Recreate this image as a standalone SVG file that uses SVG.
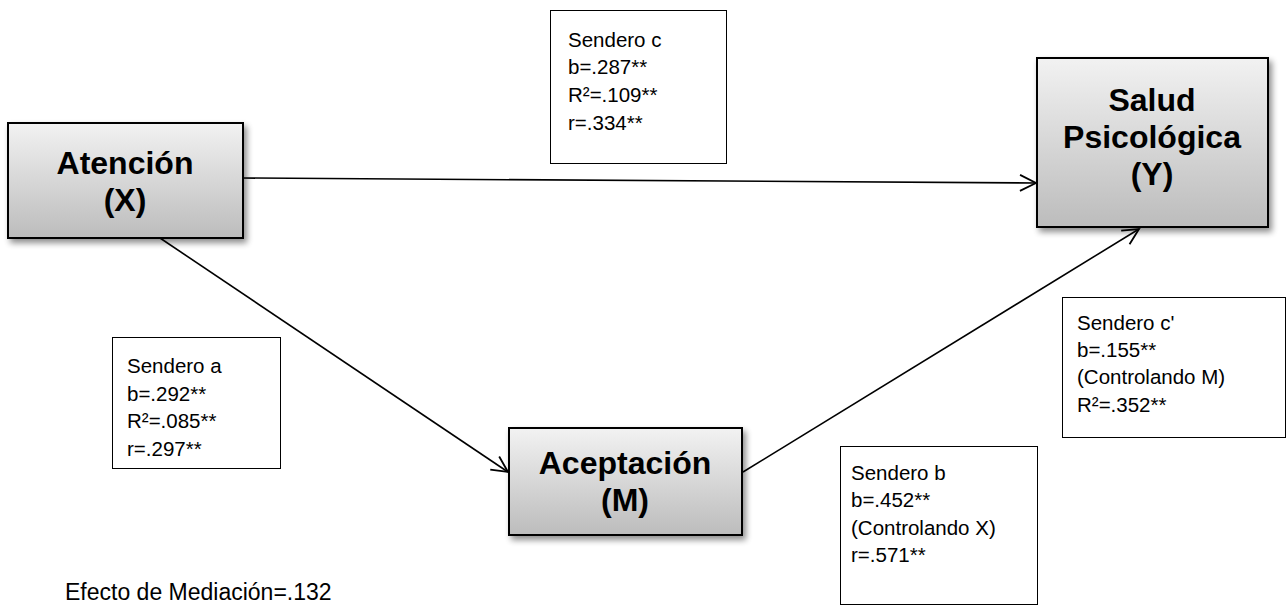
<svg xmlns="http://www.w3.org/2000/svg" width="1286" height="607" viewBox="0 0 1286 607">
<style>
.node rect{fill:url(#g);stroke:#000;stroke-width:2;filter:url(#sh)}
.nt{font-family:"Liberation Sans",Arial,sans-serif;font-weight:bold;font-size:32px;fill:#000;text-anchor:middle}
.box{fill:#fff;stroke:#000;stroke-width:1}
.lt{font-family:"Liberation Sans",Arial,sans-serif;font-size:20.5px;fill:#000}
.conn line{stroke:#000;stroke-width:1.6;marker-end:url(#arr)}
</style>
<defs>
<linearGradient id="g" x1="0" y1="0" x2="0" y2="1">
<stop offset="0" stop-color="#f2f2f2"/>
<stop offset="1" stop-color="#bcbcbc"/>
</linearGradient>
<filter id="sh" x="-10%" y="-10%" width="130%" height="140%">
<feGaussianBlur in="SourceAlpha" stdDeviation="3"/>
<feOffset dx="3" dy="4" result="b"/>
<feComponentTransfer><feFuncA type="linear" slope="0.45"/></feComponentTransfer>
<feMerge><feMergeNode/><feMergeNode in="SourceGraphic"/></feMerge>
</filter>
<marker id="arr" viewBox="0 0 20 20" refX="18" refY="10" markerWidth="20" markerHeight="20" markerUnits="userSpaceOnUse" orient="auto">
<path d="M2,2 L18,10 L2,18" fill="none" stroke="#000" stroke-width="1.8"/>
</marker>
</defs>
<g id="connectors" class="conn">
<line x1="243" y1="178" x2="1036" y2="183"/>
<line x1="160" y1="238" x2="508" y2="472"/>
<line x1="743" y1="472" x2="1139" y2="229"/>
</g>
<g id="node-x" class="node">
<rect x="8" y="123" width="235" height="115"/>
<text class="nt" x="125" y="174">Atención</text>
<text class="nt" x="125" y="211">(X)</text>
</g>
<g id="node-y" class="node">
<rect x="1037" y="58" width="231" height="169"/>
<text class="nt" x="1152" y="111">Salud</text>
<text class="nt" x="1152" y="148">Psicológica</text>
<text class="nt" x="1152" y="185">(Y)</text>
</g>
<g id="node-m" class="node">
<rect x="509" y="428" width="233" height="107"/>
<text class="nt" x="625" y="474">Aceptación</text>
<text class="nt" x="625" y="511">(M)</text>
</g>
<g id="label-c">
<rect class="box" x="550.5" y="10.5" width="176" height="153"/>
<text class="lt" x="568" y="47">Sendero c</text>
<text class="lt" x="568" y="74">b=.287**</text>
<text class="lt" x="568" y="102">R²=.109**</text>
<text class="lt" x="568" y="130">r=.334**</text>
</g>
<g id="label-a">
<rect class="box" x="112.5" y="337.5" width="168" height="131"/>
<text class="lt" x="127" y="373">Sendero a</text>
<text class="lt" x="127" y="401">b=.292**</text>
<text class="lt" x="127" y="428">R²=.085**</text>
<text class="lt" x="127" y="456">r=.297**</text>
</g>
<g id="label-cp">
<rect class="box" x="1062.5" y="297.5" width="223" height="140"/>
<text class="lt" x="1077" y="330">Sendero c'</text>
<text class="lt" x="1077" y="357">b=.155**</text>
<text class="lt" x="1077" y="384">(Controlando M)</text>
<text class="lt" x="1077" y="412">R²=.352**</text>
</g>
<g id="label-b">
<rect class="box" x="840.5" y="446.5" width="197" height="158"/>
<text class="lt" x="851" y="480">Sendero b</text>
<text class="lt" x="851" y="507">b=.452**</text>
<text class="lt" x="851" y="535">(Controlando X)</text>
<text class="lt" x="851" y="562">r=.571**</text>
</g>
<g id="footer">
<text class="lt" style="font-size:23px" x="65" y="600">Efecto de Mediación=.132</text>
</g>
</svg>
